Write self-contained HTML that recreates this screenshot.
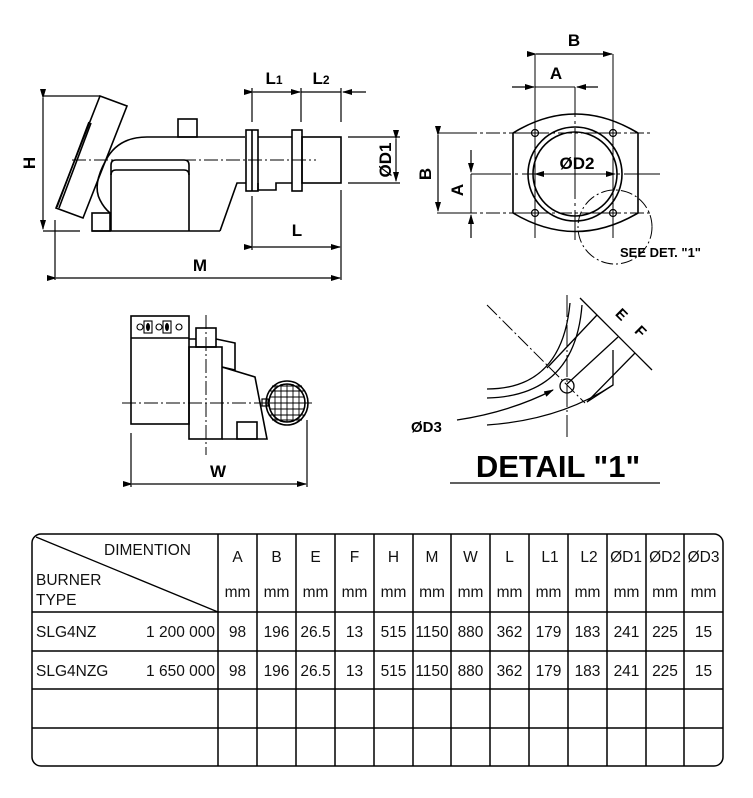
<!DOCTYPE html>
<html><head><meta charset="utf-8"><style>
html,body{margin:0;padding:0;background:#fff;}
svg{display:block;}
.b{font-family:"Liberation Sans",sans-serif;font-weight:bold;fill:#000;}
.t{font-family:"Liberation Sans",sans-serif;fill:#111;font-size:15.5px;}
</style></head><body>
<svg width="753" height="798" viewBox="0 0 753 798" xmlns="http://www.w3.org/2000/svg">
<defs>
<marker id="ar" markerWidth="10" markerHeight="6" refX="9" refY="3" orient="auto" markerUnits="userSpaceOnUse"><path d="M0,0 L10,3 L0,6 Z" fill="#000"/></marker>
</defs>
<g stroke="#000" stroke-width="1.6" fill="none">
<!-- ===== Front view ===== -->
<polygon points="100,96 127,106 83,218 56,208"/>
<line x1="89" y1="122" x2="57" y2="207"/>
<line x1="91" y1="123" x2="59" y2="208"/>
<path d="M106,160 Q118,137 147,137 L245,137"/>
<rect x="178" y="119" width="19" height="18"/>
<path d="M111,231 L111,165 Q111,160 116,160 L184,160 Q189,160 189,165 L189,231"/>
<path d="M111,175 Q111,170 116,170 L184,170 Q189,170 189,175"/>
<rect x="92" y="213" width="18" height="18"/>
<path d="M106,160 Q92,185 100,200 Q104,208 110,213"/>
<line x1="92" y1="231" x2="220" y2="231"/>
<path d="M220,231 L237,183 L246,183"/>
<rect x="246" y="130" width="12" height="61"/>
<line x1="252" y1="130" x2="252" y2="191"/>
<rect x="292" y="130" width="10" height="61"/>
<line x1="258" y1="137" x2="292" y2="137"/>
<path d="M258,183 L258,190 L276,190 L276,183 L292,183"/>
<rect x="302" y="137" width="39" height="46"/>
<line x1="72" y1="160" x2="316" y2="160" stroke-width="1" stroke-dasharray="14,3,2,3"/>
<!-- H dim -->
<line x1="43" y1="96" x2="100" y2="96" stroke-width="1.2"/>
<line x1="43" y1="231" x2="80" y2="231" stroke-width="1.2"/>
<line x1="43" y1="98" x2="43" y2="229" stroke-width="1.2" marker-start="url(#ar)" marker-end="url(#ar)"/>
<!-- L1 L2 -->
<line x1="252" y1="88" x2="252" y2="122" stroke-width="1.2"/>
<line x1="301" y1="88" x2="301" y2="122" stroke-width="1.2"/>
<line x1="341" y1="88" x2="341" y2="122" stroke-width="1.2"/>
<line x1="253" y1="92" x2="300" y2="92" stroke-width="1.2" marker-start="url(#ar)" marker-end="url(#ar)"/>
<line x1="301" y1="92" x2="341" y2="92" stroke-width="1.2"/>
<line x1="366" y1="92" x2="343" y2="92" stroke-width="1.2" marker-end="url(#ar)"/>
<!-- D1 -->
<line x1="348" y1="137" x2="400" y2="137" stroke-width="1.2"/>
<line x1="348" y1="183" x2="400" y2="183" stroke-width="1.2"/>
<line x1="396" y1="139" x2="396" y2="181" stroke-width="1.2" marker-start="url(#ar)" marker-end="url(#ar)"/>
<!-- L -->
<line x1="252" y1="196" x2="252" y2="250" stroke-width="1.2"/>
<line x1="341" y1="190" x2="341" y2="280" stroke-width="1.2"/>
<line x1="253" y1="247" x2="340" y2="247" stroke-width="1.2" marker-start="url(#ar)" marker-end="url(#ar)"/>
<!-- M -->
<line x1="55" y1="220" x2="55" y2="280" stroke-width="1.2"/>
<line x1="56" y1="278" x2="340" y2="278" stroke-width="1.2" marker-start="url(#ar)" marker-end="url(#ar)"/>

<!-- ===== Flange view ===== -->
<path d="M513,133 Q575,95 638,133 L638,213 Q575,250 513,213 Z"/>
<circle cx="575" cy="174" r="47"/>
<circle cx="575" cy="174" r="42"/>
<circle cx="535" cy="133" r="3.5" stroke-width="1.2"/>
<circle cx="613" cy="133" r="3.5" stroke-width="1.2"/>
<circle cx="535" cy="213" r="3.5" stroke-width="1.2"/>
<circle cx="613" cy="213" r="3.5" stroke-width="1.2"/>
<g stroke-width="1">
<line x1="437" y1="133" x2="650" y2="133" stroke-dasharray="40,3,3,3,14,3,3,3"/>
<line x1="437" y1="213" x2="650" y2="213" stroke-dasharray="40,3,3,3,14,3,3,3"/>
<line x1="471" y1="174" x2="660" y2="174" stroke-dasharray="40,4,3,4"/>
<line x1="535" y1="54" x2="535" y2="238"/>
<line x1="613" y1="54" x2="613" y2="238"/>
<line x1="575" y1="87" x2="575" y2="240" stroke-dasharray="30,4,3,4"/>
<line x1="536" y1="54" x2="612" y2="54" stroke-width="1.2" marker-start="url(#ar)" marker-end="url(#ar)"/>
<line x1="512" y1="87" x2="534" y2="87" stroke-width="1.2" marker-end="url(#ar)"/>
<line x1="535" y1="87" x2="575" y2="87"/>
<line x1="598" y1="87" x2="577" y2="87" stroke-width="1.2" marker-end="url(#ar)"/>
<line x1="438" y1="135" x2="438" y2="211" stroke-width="1.2" marker-start="url(#ar)" marker-end="url(#ar)"/>
<line x1="471" y1="150" x2="471" y2="172" stroke-width="1.2" marker-end="url(#ar)"/>
<line x1="471" y1="174" x2="471" y2="213"/>
<line x1="471" y1="238" x2="471" y2="215" stroke-width="1.2" marker-end="url(#ar)"/>
<line x1="535" y1="174" x2="533" y2="174"/>
<line x1="575" y1="174" x2="535" y2="174" marker-end="url(#ar)"/>
<line x1="575" y1="174" x2="615" y2="174" marker-end="url(#ar)"/>
<circle cx="615" cy="227" r="37" stroke-dasharray="12,3,2,3"/>
</g>

<!-- ===== Side view ===== -->
<rect x="131" y="316" width="58" height="108"/>
<line x1="131" y1="338" x2="189" y2="338"/>
<rect x="189" y="347" width="33" height="92"/>
<rect x="196" y="328" width="20" height="19"/>
<path d="M189,339 L196,339 M216,339 L235,343 L235,370 L222,367"/>
<path d="M222,367 L255,377 L267,439 L222,439"/>
<rect x="237" y="422" width="20" height="17"/>
<ellipse cx="287" cy="403" rx="21" ry="22"/>
<ellipse cx="287" cy="403" rx="18" ry="19"/>
<rect x="262" y="399" width="6" height="7" stroke-width="1.2"/>
<g stroke-width="0.9">
<line x1="270" y1="391" x2="304" y2="391"/><line x1="270" y1="397" x2="304" y2="397"/>
<line x1="270" y1="403" x2="304" y2="403"/><line x1="270" y1="409" x2="304" y2="409"/>
<line x1="270" y1="415" x2="304" y2="415"/><line x1="272" y1="386" x2="302" y2="386"/>
<line x1="272" y1="420" x2="302" y2="420"/>
<line x1="275" y1="385" x2="275" y2="421"/><line x1="281" y1="384" x2="281" y2="422"/>
<line x1="287" y1="384" x2="287" y2="422"/><line x1="293" y1="384" x2="293" y2="422"/>
<line x1="299" y1="385" x2="299" y2="421"/>
</g>
<g stroke-width="1.1">
<circle cx="140" cy="327" r="3"/><rect x="144" y="321" width="8" height="12"/>
<circle cx="159" cy="327" r="3"/><rect x="163" y="321" width="8" height="12"/>
<circle cx="179" cy="327" r="3"/>
</g>
<ellipse cx="148" cy="327" rx="2" ry="4" fill="#000" stroke="none"/>
<ellipse cx="167" cy="327" rx="2" ry="4" fill="#000" stroke="none"/>
<line x1="206" y1="315" x2="206" y2="455" stroke-width="1" stroke-dasharray="14,3,2,3"/>
<line x1="122" y1="403" x2="315" y2="403" stroke-width="1" stroke-dasharray="14,3,2,3"/>
<line x1="131" y1="433" x2="131" y2="487" stroke-width="1.2"/>
<line x1="307" y1="420" x2="307" y2="487" stroke-width="1.2"/>
<line x1="132" y1="484" x2="306" y2="484" stroke-width="1.2" marker-start="url(#ar)" marker-end="url(#ar)"/>

<!-- ===== Detail ===== -->
<g stroke-width="1.3">
<line x1="487" y1="305" x2="585" y2="403" stroke-dasharray="14,3,2,3" stroke-width="1"/>
<line x1="567" y1="295" x2="567" y2="437" stroke-dasharray="22,3,2,3" stroke-width="1"/>
<circle cx="567" cy="386" r="7"/>
<path d="M487,389 Q562,389 570,303"/>
<path d="M487,398 Q575,396 582,305"/>
<path d="M487,425 Q560,420 613,385"/>
<line x1="547" y1="368" x2="597" y2="315"/>
<line x1="567" y1="384" x2="618" y2="337"/>
<line x1="587" y1="402" x2="635" y2="353"/>
<path d="M613,350 L613,385 L587,402"/>
<line x1="580" y1="298" x2="652" y2="370"/>
<path d="M457,420 Q510,412 553,390" marker-end="url(#ar)"/>
<line x1="450" y1="483" x2="660" y2="483"/>
</g>
</g>

<!-- Labels -->
<text class="b" font-size="17" transform="translate(35,163) rotate(-90)" text-anchor="middle">H</text>
<text class="b" font-size="17" x="274" y="84" text-anchor="middle">L<tspan font-size="12">1</tspan></text>
<text class="b" font-size="17" x="321" y="84" text-anchor="middle">L<tspan font-size="12">2</tspan></text>
<text class="b" font-size="17" transform="translate(391,160) rotate(-90)" text-anchor="middle">ØD1</text>
<text class="b" font-size="17" x="297" y="236" text-anchor="middle">L</text>
<text class="b" font-size="17" x="200" y="271" text-anchor="middle">M</text>
<text class="b" font-size="17" x="574" y="46" text-anchor="middle">B</text>
<text class="b" font-size="17" x="556" y="79" text-anchor="middle">A</text>
<text class="b" font-size="17" transform="translate(431,174) rotate(-90)" text-anchor="middle">B</text>
<text class="b" font-size="17" transform="translate(463,190) rotate(-90)" text-anchor="middle">A</text>
<text class="b" font-size="17" x="577" y="169" text-anchor="middle">ØD2</text>
<text class="b" font-size="13" x="620" y="257">SEE DET. "1"</text>
<text class="b" font-size="17" x="218" y="477" text-anchor="middle">W</text>
<text class="b" font-size="15" transform="translate(618,318) rotate(45)" text-anchor="middle">E</text>
<text class="b" font-size="15" transform="translate(637,335) rotate(45)" text-anchor="middle">F</text>
<text class="b" font-size="15" x="411" y="432">ØD3</text>
<text class="b" font-size="31" x="558" y="477" text-anchor="middle">DETAIL "1"</text>

<!-- ===== Table ===== -->
<g stroke="#000" stroke-width="1.5" fill="none">
<rect x="32" y="534" width="691" height="232" rx="9"/>
<line x1="32" y1="612" x2="723" y2="612"/>
<line x1="32" y1="651" x2="723" y2="651"/>
<line x1="32" y1="689" x2="723" y2="689"/>
<line x1="32" y1="728" x2="723" y2="728"/>
<line x1="36" y1="537" x2="218" y2="612" stroke-width="1.3"/>
<line x1="218" y1="534" x2="218" y2="766"/><line x1="257" y1="534" x2="257" y2="766"/>
<line x1="296" y1="534" x2="296" y2="766"/><line x1="335" y1="534" x2="335" y2="766"/>
<line x1="374" y1="534" x2="374" y2="766"/><line x1="413" y1="534" x2="413" y2="766"/>
<line x1="451" y1="534" x2="451" y2="766"/><line x1="490" y1="534" x2="490" y2="766"/>
<line x1="529" y1="534" x2="529" y2="766"/><line x1="568" y1="534" x2="568" y2="766"/>
<line x1="607" y1="534" x2="607" y2="766"/><line x1="646" y1="534" x2="646" y2="766"/>
<line x1="684" y1="534" x2="684" y2="766"/>
</g>
<g class="t">
<text x="104" y="555">DIMENTION</text>
<text x="36" y="585">BURNER</text>
<text x="36" y="605">TYPE</text>
<text x="36" y="637">SLG4NZ</text>
<text x="215" y="637" text-anchor="end">1 200 000</text>
<text x="36" y="676">SLG4NZG</text>
<text x="215" y="676" text-anchor="end">1 650 000</text>
</g>
<g class="t" text-anchor="middle">
<text x="237.5" y="562">A</text><text x="276.5" y="562">B</text><text x="315.5" y="562">E</text><text x="354.5" y="562">F</text>
<text x="393.5" y="562">H</text><text x="432" y="562">M</text><text x="470.5" y="562">W</text><text x="509.5" y="562">L</text>
<text x="550" y="562">L1</text><text x="589" y="562">L2</text><text x="626" y="562">ØD1</text><text x="665" y="562">ØD2</text><text x="703.5" y="562">ØD3</text>
<text x="237.5" y="597">mm</text><text x="276.5" y="597">mm</text><text x="315.5" y="597">mm</text><text x="354.5" y="597">mm</text>
<text x="393.5" y="597">mm</text><text x="432" y="597">mm</text><text x="470.5" y="597">mm</text><text x="509.5" y="597">mm</text>
<text x="548.5" y="597">mm</text><text x="587.5" y="597">mm</text><text x="626.5" y="597">mm</text><text x="665" y="597">mm</text><text x="703.5" y="597">mm</text>
<text x="237.5" y="637">98</text><text x="276.5" y="637">196</text><text x="315.5" y="637">26.5</text><text x="354.5" y="637">13</text>
<text x="393.5" y="637">515</text><text x="432" y="637">1150</text><text x="470.5" y="637">880</text><text x="509.5" y="637">362</text>
<text x="548.5" y="637">179</text><text x="587.5" y="637">183</text><text x="626.5" y="637">241</text><text x="665" y="637">225</text><text x="703.5" y="637">15</text>
<text x="237.5" y="676">98</text><text x="276.5" y="676">196</text><text x="315.5" y="676">26.5</text><text x="354.5" y="676">13</text>
<text x="393.5" y="676">515</text><text x="432" y="676">1150</text><text x="470.5" y="676">880</text><text x="509.5" y="676">362</text>
<text x="548.5" y="676">179</text><text x="587.5" y="676">183</text><text x="626.5" y="676">241</text><text x="665" y="676">225</text><text x="703.5" y="676">15</text>
</g>
</svg>
</body></html>
